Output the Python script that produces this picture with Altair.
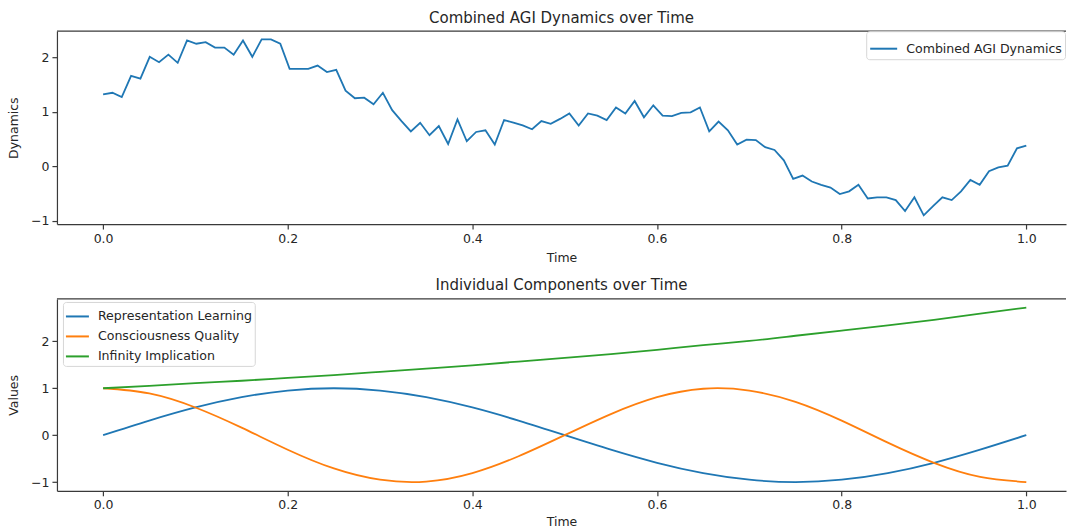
import altair as alt
import numpy as np
import pandas as pd

FONT = "DejaVu Sans"
TEXT = "#262626"
AXIS = "#3a3a3a"

# Combined dynamics: 100 samples over t in [0, 1]
combined = [
    1.32, 1.35, 1.27, 1.66, 1.61, 2.01, 1.91, 2.05, 1.90, 2.31,
    2.25, 2.28, 2.18, 2.18, 2.05, 2.31, 2.01, 2.33, 2.33, 2.25,
    1.79, 1.79, 1.79, 1.85, 1.73, 1.77, 1.39, 1.25, 1.26, 1.14,
    1.35, 1.03, 0.83, 0.64, 0.80, 0.57, 0.74, 0.41, 0.86, 0.46,
    0.63, 0.66, 0.40, 0.85, 0.80, 0.75, 0.68, 0.83, 0.78, 0.87,
    0.97, 0.75, 0.97, 0.93, 0.85, 1.08, 0.97, 1.20, 0.90, 1.12,
    0.93, 0.92, 0.98, 0.99, 1.08, 0.64, 0.82, 0.66, 0.40, 0.49,
    0.48, 0.35, 0.30, 0.11, -0.23, -0.17, -0.28, -0.34, -0.39, -0.51,
    -0.46, -0.34, -0.59, -0.57, -0.57, -0.62, -0.82, -0.57, -0.90, -0.73,
    -0.57, -0.62, -0.46, -0.25, -0.34, -0.09, -0.02, 0.01, 0.33, 0.38,
]
t_combined = np.linspace(0, 1, len(combined))

# Individual components sampled every 0.05
t_comp = [0.00, 0.05, 0.10, 0.15, 0.20, 0.25, 0.30, 0.35, 0.40, 0.45, 0.50,
          0.55, 0.60, 0.65, 0.70, 0.75, 0.80, 0.85, 0.90, 0.95, 1.00]
representation = [0.00, 0.31, 0.59, 0.81, 0.95, 1.00, 0.95, 0.81, 0.59, 0.31, 0.00,
                  -0.31, -0.59, -0.81, -0.95, -1.00, -0.95, -0.81, -0.59, -0.31, 0.00]
consciousness = [1.00, 0.89, 0.59, 0.16, -0.31, -0.71, -0.95, -0.99, -0.81, -0.45, 0.00,
                 0.45, 0.81, 0.99, 0.95, 0.71, 0.31, -0.16, -0.59, -0.89, -1.00]
infinity = [1.00, 1.05, 1.11, 1.16, 1.22, 1.28, 1.35, 1.42, 1.49, 1.57, 1.65,
            1.73, 1.82, 1.92, 2.01, 2.12, 2.23, 2.34, 2.46, 2.59, 2.72]

comp_names = ["Representation Learning", "Consciousness Quality", "Infinity Implication"]
comp_colors = ["#1f77b4", "#ff7f0e", "#2ca02c"]
x_ticks = [0.0, 0.2, 0.4, 0.6, 0.8, 1.0]

df_top = pd.DataFrame({"t": t_combined, "v": combined, "series": "Combined AGI Dynamics"})
df_bot = pd.concat([
    pd.DataFrame({"t": t_comp, "v": vals, "series": name})
    for name, vals in zip(comp_names, [representation, consciousness, infinity])
])

W = 1010
H_TOP = 193
H_BOT = 192

MINUS = "\u2212"


def x_enc(title_pad):
    return alt.X(
        "t:Q",
        scale=alt.Scale(domain=[-0.05, 1.043], nice=False, zero=False),
        axis=alt.Axis(values=x_ticks, format=".1f", title="Time", titlePadding=title_pad),
    )


def y_axis(title):
    return alt.Axis(
        values=[-1, 0, 1, 2],
        format="d",
        title=title,
        labelExpr=f"replace(datum.label, '-', '{MINUS}')",
        minExtent=30,
        maxExtent=30,
    )


border_top = alt.Chart(pd.DataFrame({"k": [0]})).mark_rule(
    color=AXIS, strokeWidth=1.2
).encode(x=alt.value(0), x2=alt.value(W), y=alt.value(0))

line_top = alt.Chart(df_top).mark_line(strokeWidth=1.8).encode(
    x=x_enc(7),
    y=alt.Y("v:Q", scale=alt.Scale(domain=[-1.06, 2.48], nice=False, zero=False),
            axis=y_axis("Dynamics")),
    color=alt.Color(
        "series:N",
        scale=alt.Scale(domain=["Combined AGI Dynamics"], range=["#1f77b4"]),
        legend=alt.Legend(
            title=None, orient="none", legendX=810, legendY=0,
            symbolType="stroke", symbolSize=729, symbolStrokeWidth=2,
            labelFontSize=12.6, labelFont=FONT, labelColor=TEXT, labelOffset=8,
            labelLimit=400, padding=3, strokeColor="#d6d6d6", fillColor="white",
            cornerRadius=3,
        ),
    ),
)

top = alt.layer(line_top, border_top).properties(
    width=W, height=H_TOP, title="Combined AGI Dynamics over Time"
)

line_bot = alt.Chart(df_bot).mark_line(strokeWidth=1.8, interpolate="natural").encode(
    x=x_enc(4),
    y=alt.Y("v:Q", scale=alt.Scale(domain=[-1.186, 2.904], nice=False, zero=False),
            axis=y_axis("Values")),
    color=alt.Color(
        "series:N",
        scale=alt.Scale(domain=comp_names, range=comp_colors),
        sort=comp_names,
        legend=alt.Legend(
            title=None, orient="none", legendX=6, legendY=3,
            symbolType="stroke", symbolSize=529, symbolStrokeWidth=2,
            labelFontSize=12.6, labelFont=FONT, labelColor=TEXT, labelOffset=8,
            labelLimit=400, rowPadding=0, padding=2, strokeColor="#d6d6d6",
            fillColor="white", cornerRadius=3,
        ),
    ),
    detail="series:N",
)

bottom = alt.layer(line_bot, border_top).properties(
    width=W, height=H_BOT, title="Individual Components over Time"
)

chart = (
    alt.vconcat(top, bottom, spacing=14)
    .resolve_scale(color="independent")
    .properties(padding={"left": 8, "top": 10, "right": 0, "bottom": 0}, background="white")
    .configure_view(stroke=None)
    .configure_axis(
        labelFont=FONT, labelFontSize=12.5, labelColor=TEXT,
        titleFont=FONT, titleFontSize=12.5, titleColor=TEXT, titleFontWeight="normal",
        domainColor=AXIS, domainWidth=1.2, tickColor=AXIS, tickSize=5, tickWidth=1.2,
        labelPadding=3, grid=False,
    )
    .configure_axisY(titlePadding=6)
    .configure_title(font=FONT, fontSize=15, fontWeight="normal", color=TEXT, offset=5,
                     anchor="middle")
)

chart.save("out.html", embed_options={"renderer": "svg", "actions": False})
